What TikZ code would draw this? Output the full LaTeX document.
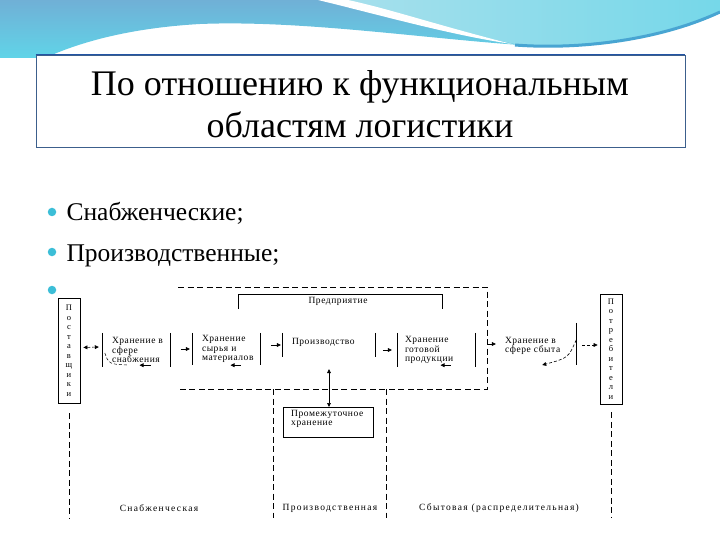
\documentclass[tikz,border=0pt]{standalone}
\usepackage{fontspec}
\setmainfont{Liberation Serif}
\newfontfamily\diafont[LetterSpace=6]{Liberation Serif}
\newfontfamily\labfont[LetterSpace=14]{Liberation Serif}
\usetikzlibrary{arrows.meta}
\definecolor{waveA}{RGB}{112,176,214}
\definecolor{waveB}{RGB}{96,212,232}
\definecolor{waveL}{RGB}{168,224,236}
\definecolor{waveD}{RGB}{72,165,210}
\definecolor{boxframe}{RGB}{60,95,140}
\definecolor{boxtop}{RGB}{35,85,165}
\definecolor{bul}{RGB}{60,190,215}
\tikzset{
  dia/.style={font=\diafont\fontsize{9.5}{9.5}\selectfont, inner sep=0pt},
  lab/.style={font=\labfont\fontsize{9.5}{10}\selectfont},
  elem/.style={inner sep=0pt},
  brk/.style={line width=0.7pt},
  arr/.style={-{Triangle[length=4pt,width=3.8pt]}, line width=0.6pt},
  arrtwo/.style={{Triangle[length=4pt,width=3.8pt]}-{Triangle[length=4pt,width=3.8pt]}, line width=0.6pt},
  dsh/.style={dash pattern=on 6pt off 3.5pt, line width=0.7pt},
  letters/.style={draw, line width=0.8pt, inner sep=0pt, align=center, font=\fontsize{8.5}{9.5}\selectfont},
  bullet/.style={circle, fill=bul, inner sep=0pt, minimum size=8.5pt},
  bultext/.style={anchor=base west, font=\fontsize{25.5}{30}\selectfont},
}
\begin{document}
\begin{tikzpicture}[x=1pt,y=-1pt]
\useasboundingbox (0,0) rectangle (720,540);
% background wave
\shade[top color=waveA, bottom color=waveB]
  (0,0) -- (720,0) -- (720,12) .. controls (650,40) and (580,48) .. (520,45)
  .. controls (420,38) and (300,20) .. (200,24)
  .. controls (130,28) and (80,42) .. (45,58) -- (0,58) -- cycle;
\shade[left color=waveL, right color=waveB!70!waveL]
  (335,0) -- (720,0) -- (720,12) .. controls (650,40) and (580,48) .. (515,44)
  .. controls (450,30) and (380,12) .. (335,0) -- cycle;
\fill[white] (318,0) .. controls (380,15) and (450,35) .. (512,44)
  .. controls (440,26) and (390,9) .. (348,0) -- cycle;
\draw[line width=3pt, waveD] (515,45) .. controls (580,50) and (660,40) .. (720,12);

% title box
\node[draw=boxframe, line width=0.9pt, fill=white, minimum width=649pt, minimum height=92pt] (tbox) at (360.5,101) {};
\draw[boxtop, line width=1.6pt] (tbox.north west) -- (tbox.north east);
\node[font=\fontsize{36}{42}\selectfont, align=center] (title) at (360,104)
  {По отношению к функциональным\\областям логистики};

% bullets
\node[bullet] (bu1) at (52,212) {};
\node[bullet] (bu2) at (52,252) {};
\node[bullet] (bu3) at (52,290) {};
\node[bultext] (b1) at (63,221) {Снабженческие;};
\node[bultext] (b2) at (63,261) {Производственные;};

% suppliers / consumers
\node[letters, minimum width=22pt, minimum height=105pt] (sup) at (69,350.5)
  {П\\о\\с\\т\\а\\в\\щ\\и\\к\\и};
\node[letters, minimum width=22pt, minimum height=110pt] (cons) at (611,349)
  {П\\о\\т\\р\\е\\б\\и\\т\\е\\л\\и};
\draw[dsh] ([shift={(0,10)}]sup.south) -- ([shift={(0,115)}]sup.south);
\draw[dsh] ([shift={(0,8)}]cons.south) -- ([shift={(0,114)}]cons.south);

% enterprise dashed frame and production column
\draw[dsh] (178,287) -- (487,287) -- (487,389) -- (178,389);
\draw[dsh] (273,389) -- (273,518);
\draw[dsh] (386,389) -- (386,518);

% enterprise bracket
\draw[brk] (238,309) -- (238,294) -- (442,294) -- (442,309);
\node[dia] (ent) at (338,301) {Предприятие};

% element brackets
\node[elem, minimum width=67pt, minimum height=34pt] (e1) at (136.5,350) {};
\node[elem, minimum width=67pt, minimum height=32pt] (e2) at (226.5,349) {};
\node[elem, minimum width=92pt, minimum height=24pt] (e3) at (329,345) {};
\node[elem, minimum width=77pt, minimum height=34pt] (e4) at (436.5,350) {};
\node[elem, minimum width=77pt, minimum height=42pt] (e5) at (537.5,344) {};
\foreach \n in {e1,e2,e3,e4}
  \draw[brk] (\n.north west) -- (\n.south west) (\n.north east) -- (\n.south east);
\draw[brk] (e5.north east) -- (e5.south east);
% element texts
\node[dia, align=left, anchor=west] (t1) at ([shift={(9,0)}]e1.west) {Хранение в\\сфере\\снабжения};
\node[dia, align=left, anchor=west] (t2) at ([shift={(9,0)}]e2.west) {Хранение\\сырья и\\материалов};
\node[dia, align=left, anchor=west] (t3) at ([shift={(9,-3)}]e3.west) {Производство};
\node[dia, align=left, anchor=west] (t4) at ([shift={(7,0)}]e4.west) {Хранение\\готовой\\продукции};
\node[dia, align=left, anchor=west] (t5) at ([shift={(6,2)}]e5.west) {Хранение в\\сфере сбыта};

% intermediate storage
\node[draw, brk, minimum width=90pt, minimum height=30pt, anchor=north west] (mid) at (283,407) {};
\node[dia, align=left, anchor=north west] (midt) at ([shift={(8,3)}]mid.north west) {Промежуточное\\хранение};

% forward arrows
\draw[arrtwo, densely dashed] ([shift={(3,-3)}]sup.east) -- ([shift={(-4,-3)}]e1.west);
\draw[arr] ([xshift=-12pt]e2.west) -- ([xshift=-3pt]e2.west);
\draw[arr] ([xshift=-12pt]e3.west) -- ([xshift=-2pt]e3.west);
\draw[arr] ([xshift=-15pt]e4.west) -- ([xshift=-6pt]e4.west);
\draw[arr] ([xshift=-11pt]e5.west) -- ([xshift=-3pt]e5.west);
\draw[arr, densely dashed] ([shift={(6,1)}]e5.east) -- ([shift={(-2,-4)}]cons.west);

% return arrows
\draw[densely dashed, line width=0.5pt] ([shift={(2,3)}]e1.west) .. controls ([shift={(6,14)}]e1.west) .. ([shift={(24,15)}]e1.west);
\draw[arr] ([shift={(14,-2)}]e1.south) -- ([shift={(3,-2)}]e1.south);
\draw[arr] ([shift={(14,0)}]e2.south) -- ([shift={(4,0)}]e2.south);
\draw[arr] ([shift={(14,-2)}]e4.south) -- ([shift={(4,-2)}]e4.south);
\draw[arr, densely dashed] ([shift={(0,-4)}]e5.east) .. controls ([shift={(-8,14)}]e5.east) .. ([shift={(-34,21)}]e5.east);

% production <-> intermediate storage
\draw[arrtwo] ([shift={(0,12)}]e3.south) -- (mid.north -| e3.south);

% column labels
\node[lab] (l1) at (159,508) {Снабженческая};
\node[lab] (l2) at (330,508) {Производственная};
\node[lab] (l3) at (499,508) {Сбытовая (распределительная)};
\end{tikzpicture}
\end{document}
